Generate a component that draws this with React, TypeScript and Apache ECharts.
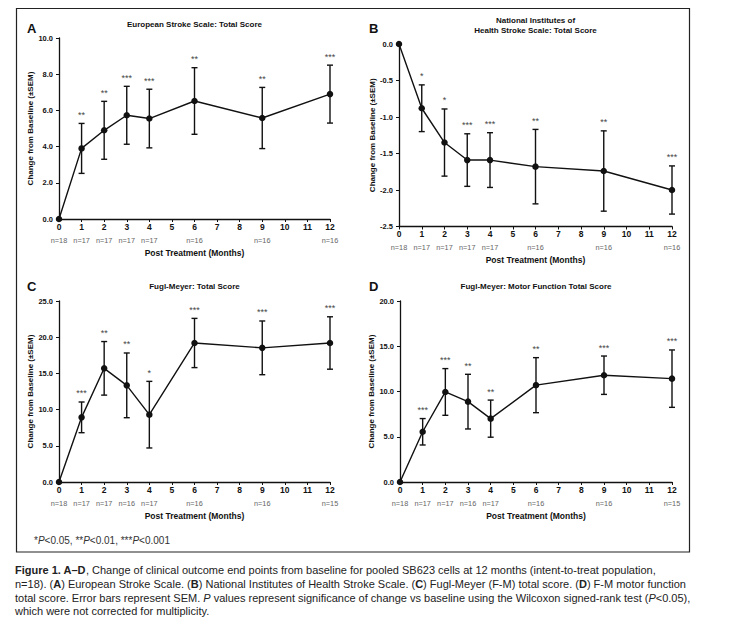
import React, { useEffect, useRef } from "react";
import * as echarts from "echarts";

// ---- Data ----
const months = [0, 1, 2, 3, 4, 6, 9, 12];
const xTicks = [0, 12];

// A: European Stroke Scale
const essMean = [0, 3.9, 4.9, 5.73, 5.55, 6.52, 5.58, 6.9];
const essSem = [0, 1.38, 1.6, 1.6, 1.62, 1.84, 1.69, 1.6];
const essStars = ["", "**", "**", "***", "***", "**", "**", "***"];
const essN = [18, 17, 17, 17, 17, 16, 16, 16];

// B: NIHSS
const nihMean = [0, -0.88, -1.35, -1.59, -1.59, -1.68, -1.74, -2.0];
const nihSem = [0, 0.32, 0.46, 0.36, 0.375, 0.51, 0.55, 0.33];
const nihStars = ["", "*", "*", "***", "***", "**", "**", "***"];
const nihN = [18, 17, 17, 17, 17, 16, 16, 16];

// C: Fugl-Meyer total
const fmMean = [0, 8.93, 15.7, 13.35, 9.3, 19.2, 18.53, 19.2];
const fmSem = [0, 2.12, 3.7, 4.47, 4.6, 3.4, 3.71, 3.62];
const fmStars = ["", "***", "**", "**", "*", "***", "***", "***"];
const fmN = [18, 17, 17, 16, 17, 16, 16, 15];

// D: Fugl-Meyer motor
const fmmMean = [0, 5.55, 9.95, 8.88, 7.0, 10.7, 11.8, 11.42];
const fmmSem = [0, 1.46, 2.58, 3.02, 2.05, 3.04, 2.12, 3.17];
const fmmStars = ["", "***", "***", "**", "**", "**", "***", "***"];
const fmmN = [18, 17, 17, 16, 17, 16, 16, 15];

const panelTitles = [
  ["European Stroke Scale: Total Score"],
  ["National Institutes of", "Health Stroke Scale: Total Score"],
  ["Fugl-Meyer: Total Score"],
  ["Fugl-Meyer: Motor Function Total Score"],
];
const panelLetters = ["A", "B", "C", "D"];
const yRanges = [
  [0, 10, 2],
  [-2.5, 0, 0.5],
  [0, 25, 5],
  [0, 20, 5],
];
const xAxisTitle = "Post Treatment (Months)";
const yAxisTitle = "Change from Baseline (\u00B1SEM)";

const footnote = "*{i|P}<0.05, **{i|P}<0.01, ***{i|P}<0.001";
const captionLines = [
  "{b|Figure 1. A\u2013D}, Change of clinical outcome end points from baseline for pooled SB623 cells at 12 months (intent-to-treat population,",
  "n=18). ({b|A}) European Stroke Scale. ({b|B}) National Institutes of Health Stroke Scale. ({b|C}) Fugl-Meyer (F-M) total score. ({b|D}) F-M motor function",
  "total score. Error bars represent SEM. {i|P} values represent significance of change vs baseline using the Wilcoxon signed-rank test ({i|P}<0.05),",
  "which were not corrected for multiplicity.",
];

const FONT = "Arial, 'Liberation Sans', Helvetica, sans-serif";
const INK = "#111";
const CAP = 11;

export default function App() {
  const ref = useRef<HTMLDivElement>(null);

  useEffect(() => {
    if (!ref.current) return;
    const chart = echarts.init(ref.current, undefined, { renderer: "svg" });

    const panels = [
      { mean: essMean, sem: essSem, stars: essStars, n: essN, grid: { left: 59, top: 38, width: 271, height: 181 }, letter: [27, 28], titleY: 24 },
      { mean: nihMean, sem: nihSem, stars: nihStars, n: nihN, grid: { left: 399, top: 44, width: 273, height: 182.5 }, letter: [369, 28], titleY: 20 },
      { mean: fmMean, sem: fmSem, stars: fmStars, n: fmN, grid: { left: 59, top: 301, width: 271, height: 181 }, letter: [27, 286], titleY: 286 },
      { mean: fmmMean, sem: fmmSem, stars: fmmStars, n: fmmN, grid: { left: 400, top: 301, width: 272, height: 181 }, letter: [369, 286], titleY: 286 },
    ];

    const grids: any[] = [];
    const xAxes: any[] = [];
    const yAxes: any[] = [];
    const series: any[] = [];
    const graphics: any[] = [];

    graphics.push({
      type: "rect",
      shape: { x: 16.5, y: 8.5, width: 673, height: 543.5 },
      style: { fill: "none", stroke: "#222", lineWidth: 1.2 },
    });

    panels.forEach((p, k) => {
      const [yMin, yMax, yInt] = yRanges[k];
      grids.push({ ...p.grid, containLabel: false });
      xAxes.push({
        gridIndex: k,
        type: "value",
        min: xTicks[0],
        max: xTicks[1],
        interval: 1,
        axisLine: { show: true, onZero: false, lineStyle: { color: INK, width: 1.3 } },
        axisTick: { show: true, length: 3, lineStyle: { color: INK, width: 1 } },
        splitLine: { show: false },
        axisLabel: {
          margin: 3,
          fontSize: 8.5,
          fontWeight: "bold",
          color: INK,
          fontFamily: FONT,
          formatter: (v: number) => String(Math.round(v)),
        },
        name: xAxisTitle,
        nameLocation: "middle",
        nameGap: 29,
        nameTextStyle: { fontSize: 8.5, fontWeight: "bold", color: INK, fontFamily: FONT },
      });
      yAxes.push({
        gridIndex: k,
        type: "value",
        min: yMin,
        max: yMax,
        interval: yInt,
        axisLine: { show: true, onZero: false, lineStyle: { color: INK, width: 1.3 } },
        axisTick: { show: true, length: 3, lineStyle: { color: INK, width: 1 } },
        splitLine: { show: false },
        axisLabel: {
          margin: 6,
          fontSize: 7.5,
          fontWeight: "bold",
          color: INK,
          fontFamily: FONT,
          formatter: (v: number) => (Math.abs(v) < 1e-9 ? "0.0" : v.toFixed(1)),
        },
        name: yAxisTitle,
        nameLocation: "middle",
        nameGap: 23,
        nameTextStyle: { fontSize: 8, fontWeight: "bold", color: INK, fontFamily: FONT },
      });

      series.push({
        type: "custom",
        xAxisIndex: k,
        yAxisIndex: k,
        clip: false,
        z: 2,
        data: months.map((m, i) => [m, p.mean[i] - p.sem[i], p.mean[i] + p.sem[i]]),
        renderItem: (params: any, api: any) => {
          const x = api.value(0);
          const lo = api.value(1);
          const hi = api.value(2);
          const pt = api.coord([x, hi]);
          const pb = api.coord([x, lo]);
          const base = api.coord([x, yMin]);
          const children: any[] = [];
          const st = { stroke: INK, lineWidth: 1.4 };
          if (hi - lo > 1e-9) {
            children.push({ type: "line", shape: { x1: pt[0], y1: pt[1], x2: pb[0], y2: pb[1] }, style: st });
            children.push({ type: "line", shape: { x1: pt[0] - 3, y1: pt[1], x2: pt[0] + 3, y2: pt[1] }, style: st });
            children.push({ type: "line", shape: { x1: pb[0] - 3, y1: pb[1], x2: pb[0] + 3, y2: pb[1] }, style: st });
          }
          const s = p.stars[params.dataIndex];
          if (s) {
            children.push({
              type: "text",
              style: { text: s, x: pt[0], y: pt[1] - 4, align: "center", verticalAlign: "bottom", fontSize: 9, fontFamily: FONT, fill: "#444" },
            });
          }
          children.push({
            type: "text",
            style: { text: "n=" + p.n[params.dataIndex], x: base[0], y: base[1] + 21, align: "center", verticalAlign: "middle", fontSize: 7.3, fontFamily: FONT, fill: "#666" },
          });
          return { type: "group", children };
        },
      });

      series.push({
        type: "line",
        xAxisIndex: k,
        yAxisIndex: k,
        z: 3,
        data: months.map((m, i) => [m, p.mean[i]]),
        symbol: "circle",
        symbolSize: 6.5,
        lineStyle: { color: INK, width: 1.4 },
        itemStyle: { color: INK },
      });

      graphics.push({
        type: "text",
        style: { text: panelLetters[k], x: p.letter[0], y: p.letter[1], align: "left", verticalAlign: "middle", fontSize: 13, fontWeight: "bold", fontFamily: FONT, fill: INK },
      });
      const cx = p.grid.left + p.grid.width / 2;
      panelTitles[k].forEach((t, j) => {
        graphics.push({
          type: "text",
          style: { text: t, x: cx, y: p.titleY + j * 10, align: "center", verticalAlign: "middle", fontSize: 8, fontWeight: "bold", fontFamily: FONT, fill: INK },
        });
      });
    });

    const rich = {
      b: { fontWeight: "bold", fontSize: CAP, fontFamily: FONT, fill: "#222", color: "#222" },
      i: { fontStyle: "italic", fontSize: CAP, fontFamily: FONT, fill: "#222", color: "#222" },
    };
    graphics.push({
      type: "text",
      style: {
        text: footnote,
        x: 34,
        y: 540,
        align: "left",
        verticalAlign: "middle",
        fontSize: 10,
        fontFamily: FONT,
        fill: "#333",
        rich: { i: { fontStyle: "italic", fontSize: 10, fontFamily: FONT, fill: "#333", color: "#333" } },
      },
    });
    captionLines.forEach((line, j) => {
      graphics.push({
        type: "text",
        style: { text: line, x: 15, y: 570 + j * 13.8, align: "left", verticalAlign: "middle", fontSize: CAP, fontFamily: FONT, fill: "#222", rich },
      });
    });

    chart.setOption({
      animation: false,
      backgroundColor: "#fff",
      grid: grids,
      xAxis: xAxes,
      yAxis: yAxes,
      series,
      graphic: graphics,
    });

    return () => chart.dispose();
  }, []);

  return <div ref={ref} style={{ position: "absolute", left: 0, top: 0, width: 731, height: 623 }} />;
}
